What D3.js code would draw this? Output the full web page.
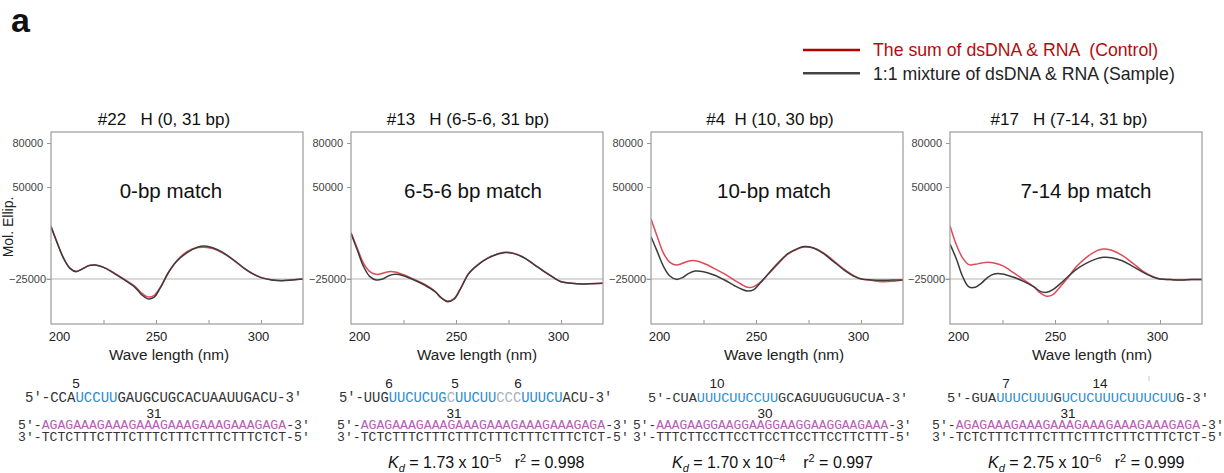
<!DOCTYPE html>
<html><head><meta charset="utf-8">
<script src="https://cdn.jsdelivr.net/npm/d3@7"></script>
<style>
body{margin:0;background:#fff}
svg{display:block}
text{font-family:"Liberation Sans",Arial,Helvetica,sans-serif}
.mono{font-family:"Liberation Mono","Courier New",monospace}
</style>
</head><body>
<svg id="c" width="1224" height="473"></svg>
<script>
// ---------------- DATA ----------------
const wavelengths = [200,203,206,209,212,215,218,221,225,230,235,240,243,246,249,252,256,260,265,270,273,277,282,287,292,297,300,305,310,315,320];

// #22 H (0, 31 bp)
const control22 = [17900,4300,-8000,-16000,-18700,-16600,-14000,-13600,-15300,-20000,-25300,-31000,-36200,-39600,-38500,-31800,-19500,-9900,-2400,600,900,-200,-4000,-9800,-16300,-21500,-23700,-25600,-26200,-25700,-25000];
const sample22  = [17700,4100,-8200,-16300,-19000,-16800,-14100,-13600,-15500,-20400,-25800,-31800,-37500,-41200,-40000,-32500,-19500,-10300,-3300,1100,1900,500,-3500,-9500,-16300,-21700,-23900,-25800,-26400,-25800,-25000];
// #13 H (6-5-6, 31 bp)
const control13 = [12800,0,-12200,-19000,-21200,-20400,-19000,-19300,-21500,-25300,-29300,-35000,-40200,-43000,-41200,-33200,-20500,-13800,-8000,-4300,-3200,-3800,-7100,-12800,-18800,-24300,-27000,-28400,-29000,-28700,-28500];
const sample13  = [12200,-1400,-14900,-23100,-25800,-25000,-22300,-21200,-22300,-25800,-29900,-35300,-40500,-43500,-41500,-33500,-20800,-14100,-8200,-4600,-3500,-4100,-7300,-13000,-19000,-24500,-27200,-28500,-29100,-28800,-28500];
// #4 H (10, 30 bp)
const control4 = [23900,9500,-4100,-11400,-13600,-12200,-10300,-10100,-12200,-16300,-20900,-26400,-29300,-31800,-31200,-27800,-20800,-13600,-4900,-300,1100,500,-3500,-10100,-17100,-22600,-24700,-26100,-27200,-26900,-25800];
const sample4  = [9500,-2700,-14900,-22600,-25300,-23900,-20400,-18500,-19000,-21700,-25800,-30700,-33200,-34800,-33600,-28300,-20500,-12800,-4600,0,1400,500,-4100,-10900,-17700,-23100,-25000,-25800,-26100,-25800,-25800];
// #17 H (7-14, 31 bp)
const control17 = [18500,3000,-7800,-13300,-13000,-12000,-11400,-12000,-14100,-19600,-25500,-31500,-36400,-39100,-37800,-32300,-24200,-15200,-7300,-1900,-500,-1600,-5700,-12000,-18800,-23400,-25000,-25500,-25800,-25500,-25500];
const sample17  = [3500,-8500,-23000,-31500,-31800,-28300,-23600,-20900,-20900,-23400,-26900,-31500,-35100,-35900,-33700,-29600,-23400,-17400,-12000,-8400,-7300,-7600,-10100,-14700,-19600,-23600,-25000,-25500,-25800,-25500,-25500];

const panelTitles = ["#22   H (0, 31 bp)", "#13   H (6-5-6, 31 bp)", "#4  H (10, 30 bp)", "#17   H (7-14, 31 bp)"];
const matchLabels = ["0-bp match", "6-5-6 bp match", "10-bp match", "7-14 bp match"];
const yTicks = [80000, 50000, -25000];
const xTickLabels = [200, 250, 300];
const xMinorTicks = [225, 250, 275, 300];
const legendLabels = ["The sum of dsDNA & RNA  (Control)", "1:1 mixture of dsDNA & RNA (Sample)"];

// sequences: [text, colour-key]
const rnaSeqs = [
  [["5′-CCA","k"],["UCCUU","b"],["GAUGCUGCACUAAUUGACU-3′","k"]],
  [["5′-UUG","k"],["UUCUCUG","b"],["C","g"],["UUCUU","b"],["CCC","g"],["UUUCU","b"],["ACU-3′","k"]],
  [["5′-CUA","k"],["UUUCUUCCUU","b"],["GCAGUUGUGUCUA-3′","k"]],
  [["5′-GUA","k"],["UUUCUUU","b"],["G","k"],["UCUCUUUCUUUCUU","b"],["G-3′","k"]]
];
const dnaTop = ["AGAGAAAGAAAGAAAGAAAGAAAGAAAGAGA","AGAGAAAGAAAGAAAGAAAGAAAGAAAGAGA","AAAGAAGGAAGGAAGGAAGGAAGGAAGAAA","AGAGAAAGAAAGAAAGAAAGAAAGAAAGAGA"];
const dnaBottom = ["TCTCTTTCTTTCTTTCTTTCTTTCTTTCTCT","TCTCTTTCTTTCTTTCTTTCTTTCTTTCTCT","TTTCTTCCTTCCTTCCTTCCTTCCTTCTTT","TCTCTTTCTTTCTTTCTTTCTTTCTTTCTCT"];
const matchNumbers = [["5"],["6","5","6"],["10"],["7","14"]];
const duplexLengths = ["31","31","30","31"];
const kdValues = [null, ["1.73","−5","0.998"], ["1.70","−4","0.997"], ["2.75","−6","0.999"]];

// ---------------- LAYOUT ----------------
const controlSets = [control22, control13, control4, control17];
const sampleSets = [sample22, sample13, sample4, sample17];
const layout = [
  {left:51,  title:-13, match:-6, xl:-8, seq1:25,  fs1:14.0, seq2:18,  fs2:13.15, nums:[76], len:154, kd:null},
  {left:351, title:-9,  match:-4, xl:0,  seq1:339, fs1:13.8, seq2:337, fs2:13.15, nums:[389,455,518], len:454, kd:388},
  {left:651, title:-7,  match:-3, xl:7,  seq1:648, fs1:13.55, seq2:633, fs2:12.9, nums:[717], len:765, kd:672},
  {left:950, title:-7,  match:10, xl:16, seq1:947, fs1:13.65, seq2:932, fs2:13.15, nums:[1006,1100], len:1068, kd:988}
];
const colors = {k:"#333", b:"#2a8bd0", g:"#a9b1ba", p:"#b560b5"};
const RED = "#de4a58", DARK = "#3c3c3c";

const W = 252, H = 192, TOP = 132;
const svg = d3.select("#c");
svg.append("rect").attr("width",1224).attr("height",473).attr("fill","#fff");

const x = d3.scaleLinear().domain([200, 320]).range([0, W]);
const y = d3.scaleLinear().domain([-61700, -25000, 50000, 80000, 87500]).range([H, 147, 55, 11, 0]);
const line = d3.line().x((d,i)=>x(wavelengths[i])).y(d=>y(d)).curve(d3.curveCatmullRom.alpha(0.5));

// panel label
svg.append("text").attr("x",11).attr("y",32).attr("font-size",34).attr("font-weight","bold").attr("fill","#111").text("a");

// legend
[[RED,"#b30d0d",50],[ "#4a4a4a","#222",73.3]].forEach((c,i)=>{
  svg.append("line").attr("x1",803).attr("x2",860).attr("y1",c[2]).attr("y2",c[2]).attr("stroke",i==0?"#b30000":"#444").attr("stroke-width",2.6);
  svg.append("text").attr("x",873).attr("y",c[2]+6.3).attr("font-size",17.7).attr("fill",c[1]).style("white-space","pre").text(legendLabels[i]);
});

// y label
svg.append("text").attr("transform","translate(12.5,227) rotate(-90)").attr("text-anchor","middle").attr("font-size",14).attr("fill","#222").text("Mol. Ellip.");

layout.forEach((L,p)=>{
  const g = svg.append("g").attr("transform",`translate(${L.left},${TOP})`);
  g.append("clipPath").attr("id","clip"+p).append("rect").attr("width",W).attr("height",H);

  // reference line
  g.append("line").attr("x1",-5).attr("x2",W).attr("y1",y(-25000)).attr("y2",y(-25000)).attr("stroke","#b4b4b4").attr("stroke-width",1.2);

  // y axis
  const ya = g.append("g").call(d3.axisLeft(y).tickValues(yTicks).tickSize(4).tickPadding(4).tickFormat(d3.format("d")));
  ya.select(".domain").remove();
  ya.selectAll(".tick line").attr("stroke","#999");
  ya.selectAll(".tick text").attr("font-size",11).attr("fill","#444").attr("font-family","Liberation Sans, Arial, sans-serif")
    .attr("dx",d=>d===-25000?3:0);

  // x axis labels
  const xa = g.append("g").attr("transform",`translate(0,${H})`).call(d3.axisBottom(x).tickValues(xTickLabels).tickSize(0).tickPadding(8).tickFormat(d3.format("d")));
  xa.select(".domain").remove();
  xa.selectAll(".tick text").attr("font-size",13).attr("fill","#222").attr("font-family","Liberation Sans, Arial, sans-serif")
    .attr("dx",d=>d===200?8:(d===300?-3:0));
  // minor inner ticks
  const xm = g.append("g").attr("transform",`translate(0,${H})`).call(d3.axisTop(x).tickValues(xMinorTicks).tickSize(4).tickFormat(""));
  xm.select(".domain").remove();
  xm.selectAll(".tick line").attr("stroke","#999");

  // curves
  const cg = g.append("g").attr("clip-path",`url(#clip${p})`);
  cg.append("path").attr("d",line(controlSets[p])).attr("fill","none").attr("stroke",RED).attr("stroke-width",1.5);
  cg.append("path").attr("d",line(sampleSets[p])).attr("fill","none").attr("stroke",DARK).attr("stroke-width",1.5);

  // box
  g.append("rect").attr("width",W).attr("height",H).attr("fill","none").attr("stroke","#9c9c9c").attr("stroke-width",1.2);

  // texts
  g.append("text").attr("x",W/2+L.title).attr("y",-7).attr("text-anchor","middle").attr("font-size",17).attr("fill","#111").style("white-space","pre").text(panelTitles[p]);
  g.append("text").attr("x",W/2+L.match).attr("y",66.4).attr("text-anchor","middle").attr("font-size",20.5).attr("fill","#111").text(matchLabels[p]);
  g.append("text").attr("x",W/2+L.xl).attr("y",H+36.4).attr("text-anchor","middle").attr("font-size",15.3).attr("fill","#222").text("Wave length (nm)");

  // sequences
  const t1 = svg.append("text").attr("class","mono").attr("x",L.seq1).attr("y",401.5).attr("font-size",L.fs1);
  rnaSeqs[p].forEach(s=>t1.append("tspan").attr("fill",colors[s[1]]).text(s[0]));
  const t2 = svg.append("text").attr("class","mono").attr("x",L.seq2).attr("y",428.8).attr("font-size",L.fs2);
  t2.append("tspan").attr("fill",colors.k).text("5′-");
  t2.append("tspan").attr("fill",colors.p).text(dnaTop[p]);
  t2.append("tspan").attr("fill",colors.k).text("-3′");
  svg.append("text").attr("class","mono").attr("x",L.seq2).attr("y",441.2).attr("font-size",L.fs2).attr("fill",colors.k).text("3′-"+dnaBottom[p]+"-5′");

  matchNumbers[p].forEach((n,i)=>{
    svg.append("text").attr("x",L.nums[i]).attr("y",387.5).attr("text-anchor","middle").attr("font-size",13.5).attr("fill","#222").text(n);
  });
  svg.append("text").attr("x",L.len).attr("y",417.8).attr("text-anchor","middle").attr("font-size",13.5).attr("fill","#222").text(duplexLengths[p]);

  if (kdValues[p]) {
    const k = kdValues[p];
    const t = svg.append("text").attr("x",L.kd).attr("y",468).attr("font-size",16).attr("fill","#111").style("white-space","pre");
    t.append("tspan").attr("font-style","italic").text("K");
    t.append("tspan").attr("font-style","italic").attr("font-size",11).attr("dy",4).text("d");
    t.append("tspan").attr("dy",-4).text(" = "+k[0]+" x 10");
    t.append("tspan").attr("font-size",11).attr("dy",-6).text(k[1]);
    t.append("tspan").attr("dy",6).text(p===2?"    r":"   r");
    t.append("tspan").attr("font-size",11).attr("dy",-6).text("2");
    t.append("tspan").attr("dy",6).text(" = "+k[2]);
  }
});
// small stray tick mark near panel 4 sequence
svg.append("line").attr("x1",1149).attr("x2",1149).attr("y1",376).attr("y2",381).attr("stroke","#c8c8c8").attr("stroke-width",1);
</script>
</body></html>
